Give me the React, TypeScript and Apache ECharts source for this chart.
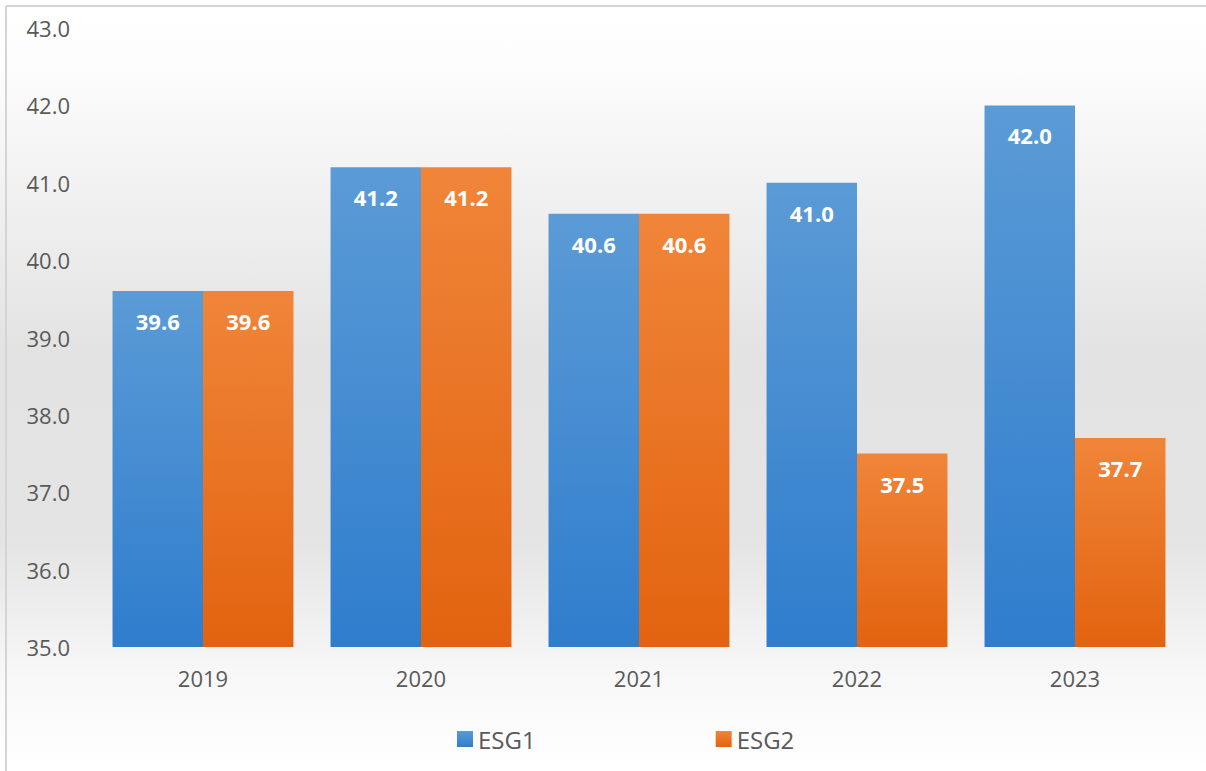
import React, { useEffect, useRef } from "react";
import * as echarts from "echarts";

const categories = ["2019", "2020", "2021", "2022", "2023"];
const esg1 = [39.6, 41.2, 40.6, 41.0, 42.0];
const esg2 = [39.6, 41.2, 40.6, 37.5, 37.7];
const seriesNames = ["ESG1", "ESG2"];

const FONT = "'Open Sans', 'DejaVu Sans', sans-serif";

export default function App() {
  const ref = useRef<HTMLDivElement>(null);
  useEffect(() => {
    document.body.style.margin = "0";
    const chart = echarts.init(ref.current!, null, { renderer: "svg" });
    const blue = new echarts.graphic.LinearGradient(0, 0, 0, 1, [
      { offset: 0, color: "#5b9bd6" },
      { offset: 1, color: "#2f7dcd" },
    ]);
    const orange = new echarts.graphic.LinearGradient(0, 0, 0, 1, [
      { offset: 0, color: "#f08539" },
      { offset: 1, color: "#e2630f" },
    ]);
    const label = {
      show: true,
      position: "insideTop" as const,
      distance: 19,
      color: "#ffffff",
      fontWeight: "bold" as const,
      fontSize: 22,
      fontFamily: FONT,
      formatter: (p: any) => Number(p.value).toFixed(1),
    };
    chart.setOption({
      animation: false,
      backgroundColor: new echarts.graphic.LinearGradient(0, 0, 0, 1, [
        { offset: 0, color: "#ffffff" },
        { offset: 0.08, color: "#fdfdfd" },
        { offset: 0.45, color: "#e3e3e3" },
        { offset: 0.7, color: "#e4e4e4" },
        { offset: 0.88, color: "#f8f8f8" },
        { offset: 1, color: "#ffffff" },
      ]),
      graphic: [
        { type: "line", shape: { x1: 6, y1: 6, x2: 1206, y2: 6 }, style: { stroke: "#d4d4d4", lineWidth: 2 } },
        { type: "line", shape: { x1: 6, y1: 6, x2: 6, y2: 771 }, style: { stroke: "#d4d4d4", lineWidth: 2 } },
      ],
      grid: { left: 94, right: 22, top: 28, bottom: 124 },
      legend: {
        data: seriesNames,
        top: 727,
        left: 457,
        padding: 0,
        itemGap: 180,
        itemWidth: 16,
        itemHeight: 16,
        icon: "rect",
        textStyle: { color: "#595959", fontSize: 24, fontFamily: FONT },
      },
      xAxis: {
        type: "category",
        data: categories,
        axisLine: { show: false },
        axisTick: { show: false },
        axisLabel: { color: "#595959", fontSize: 22, fontFamily: FONT, margin: 20 },
      },
      yAxis: {
        type: "value",
        min: 35,
        max: 43,
        interval: 1,
        splitLine: { show: false },
        axisLine: { show: false },
        axisTick: { show: false },
        axisLabel: {
          color: "#595959",
          fontSize: 22,
          fontFamily: FONT,
          margin: 24,
          formatter: (v: number) => v.toFixed(1),
        },
      },
      series: [
        {
          name: seriesNames[0],
          type: "bar",
          data: esg1,
          barGap: "0%",
          barCategoryGap: "17%",
          itemStyle: { color: blue },
          label,
        },
        {
          name: seriesNames[1],
          type: "bar",
          data: esg2,
          barGap: "0%",
          barCategoryGap: "17%",
          itemStyle: { color: orange },
          label,
        },
      ],
    });
    return () => chart.dispose();
  }, []);
  return <div ref={ref} style={{ width: 1206, height: 771 }} />;
}
